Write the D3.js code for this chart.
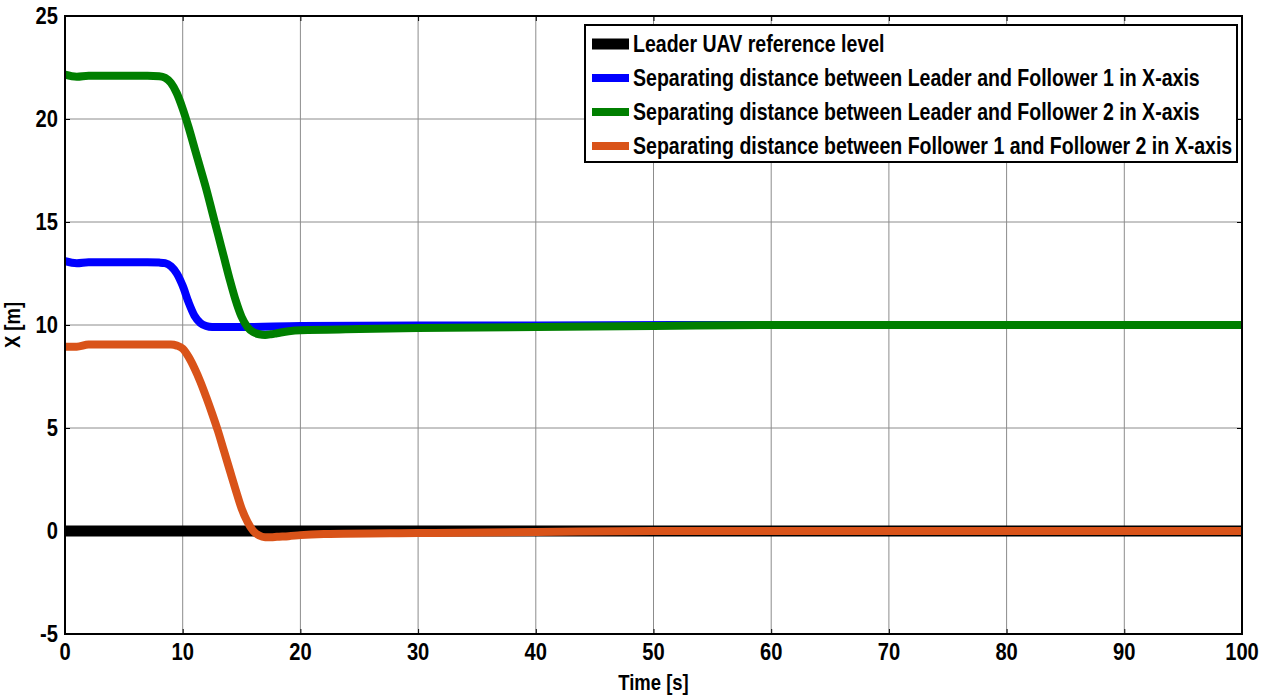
<!DOCTYPE html>
<html>
<head>
<meta charset="utf-8">
<script src="https://cdn.jsdelivr.net/npm/d3@7"></script>
<style>
  body { margin: 0; background: #fff; }
  text { font-family: "Liberation Sans", Arial, sans-serif; font-weight: bold; fill: #000; }
</style>
</head>
<body>
<div id="chart"></div>
<script>
const width = 1270,
    height = 696

const margin = { top: 16, right: 28, bottom: 62, left: 65 }

// data
const xTicks = [0, 10, 20, 30, 40, 50, 60, 70, 80, 90, 100]
const yTicks = [-5, 0, 5, 10, 15, 20, 25]

const leaderT = [0, 100]
const leaderX = [0, 0]

const f1T = [0, 1, 2, 3, 4, 5, 6, 7, 8, 8.5, 9, 9.5, 10, 10.5, 11, 11.5, 12, 12.5, 13, 15, 20, 30, 40, 60, 80, 100]
const f1X = [13.1, 13.0, 13.05, 13.05, 13.05, 13.05, 13.05, 13.05, 13.03, 13.0, 12.85, 12.5, 11.9, 11.1, 10.45, 10.1, 9.95, 9.9, 9.9, 9.9, 9.95, 9.97, 9.98, 10, 10, 10]

const f2T = [0, 1, 2, 3, 4, 5, 6, 7, 8, 8.5, 9, 9.5, 10, 10.5, 11, 11.5, 12, 12.5, 13, 13.5, 14, 14.5, 15, 15.5, 16, 16.5, 17, 17.5, 18, 19, 20, 25, 30, 40, 50, 60, 80, 100]
const f2X = [22.15, 22.05, 22.1, 22.1, 22.1, 22.1, 22.1, 22.1, 22.08, 22.0, 21.75, 21.25, 20.5, 19.6, 18.6, 17.6, 16.6, 15.5, 14.4, 13.3, 12.2, 11.2, 10.4, 9.9, 9.65, 9.55, 9.52, 9.55, 9.6, 9.7, 9.75, 9.8, 9.85, 9.9, 9.95, 10, 10, 10]

const f12T = [0, 1, 2, 3, 4, 5, 6, 7, 8, 9, 9.5, 10, 10.5, 11, 11.5, 12, 12.5, 13, 13.5, 14, 14.5, 15, 15.5, 16, 16.5, 17, 17.5, 18, 19, 20, 22, 30, 40, 50, 60, 80, 100]
const f12X = [8.95, 8.95, 9.05, 9.05, 9.05, 9.05, 9.05, 9.05, 9.05, 9.05, 9.0, 8.85, 8.45, 7.9, 7.25, 6.5, 5.7, 4.85, 3.9, 2.95, 2.0, 1.1, 0.45, 0.0, -0.22, -0.3, -0.3, -0.28, -0.25, -0.2, -0.15, -0.1, -0.05, 0, 0, 0, 0]

const seriesNames = [
  'Leader UAV reference level',
  'Separating distance between Leader and Follower 1 in X-axis',
  'Separating distance between Leader and Follower 2 in X-axis',
  'Separating distance between Follower 1 and Follower 2 in X-axis'
]
const seriesColors = ['#000000', '#0000ff', '#007f00', '#d95319']
const seriesWidths = [11, 8, 8, 8]

const series = [
  leaderT.map((t, i) => [t, leaderX[i]]),
  f1T.map((t, i) => [t, f1X[i]]),
  f2T.map((t, i) => [t, f2X[i]]),
  f12T.map((t, i) => [t, f12X[i]])
]

const svg = d3.select('#chart')
  .append('svg')
    .attr('width', width)
    .attr('height', height)

const x = d3.scaleLinear().domain([0, 100]).range([margin.left, width - margin.right])
const y = d3.scaleLinear().domain([-5, 25]).range([height - margin.bottom, margin.top])

// the original font is condensed: squeeze each text about its anchor point
function condense(sel, k, rot) {
  sel.each(function() {
    const t = d3.select(this)
    const px = +t.attr('x'), py = +t.attr('y')
    t.attr('x', 0).attr('y', 0)
      .attr('transform', `translate(${px},${py})${rot ? ` rotate(${rot})` : ''} scale(${k},1)`)
  })
}

// grid
svg.append('g')
  .selectAll('line')
  .data(xTicks)
  .join('line')
  .attr('x1', d => x(d)).attr('x2', d => x(d))
  .attr('y1', y(-5)).attr('y2', y(25))
  .attr('stroke', '#8c8c8c')
  .attr('stroke-width', 1)

svg.append('g')
  .selectAll('line')
  .data(yTicks)
  .join('line')
  .attr('x1', x(0)).attr('x2', x(100))
  .attr('y1', d => y(d)).attr('y2', d => y(d))
  .attr('stroke', '#8c8c8c')
  .attr('stroke-width', 1)

// inward ticks on all four sides
const tickLen = 5
const xAxisB = d3.axisBottom(x).tickValues(xTicks).tickSizeInner(-tickLen).tickSizeOuter(0).tickFormat('')
const xAxisT = d3.axisTop(x).tickValues(xTicks).tickSizeInner(-tickLen).tickSizeOuter(0).tickFormat('')
const yAxisL = d3.axisLeft(y).tickValues(yTicks).tickSizeInner(-tickLen).tickSizeOuter(0).tickFormat('')
const yAxisR = d3.axisRight(y).tickValues(yTicks).tickSizeInner(-tickLen).tickSizeOuter(0).tickFormat('')

svg.append('g').attr('transform', `translate(0,${y(-5)})`).call(xAxisB)
svg.append('g').attr('transform', `translate(0,${y(25)})`).call(xAxisT)
svg.append('g').attr('transform', `translate(${x(0)},0)`).call(yAxisL)
svg.append('g').attr('transform', `translate(${x(100)},0)`).call(yAxisR)
svg.selectAll('.domain').remove()
svg.selectAll('.tick line').attr('stroke', '#000')

// lines
const line = d3.line()
  .x(d => x(d[0]))
  .y(d => y(d[1]))
  .curve(d3.curveMonotoneX)

svg.append('g')
  .selectAll('path')
  .data(series)
  .join('path')
  .attr('d', line)
  .attr('fill', 'none')
  .attr('stroke', (d, i) => seriesColors[i])
  .attr('stroke-width', (d, i) => seriesWidths[i])
  .attr('stroke-linejoin', 'round')

// frame
svg.append('rect')
  .attr('x', x(0))
  .attr('y', y(25))
  .attr('width', x(100) - x(0))
  .attr('height', y(-5) - y(25))
  .attr('fill', 'none')
  .attr('stroke', '#000')
  .attr('stroke-width', 2)

// tick labels
svg.append('g')
  .selectAll('text')
  .data(xTicks)
  .join('text')
  .attr('x', d => x(d))
  .attr('y', y(-5) + 26)
  .attr('text-anchor', 'middle')
  .style('font-size', '24px')
  .text(d => d)
  .call(condense, 0.84)

svg.append('g')
  .selectAll('text')
  .data(yTicks)
  .join('text')
  .attr('x', x(0) - 7)
  .attr('y', d => y(d) + 8)
  .attr('text-anchor', 'end')
  .style('font-size', '24px')
  .text(d => d)
  .call(condense, 0.84)

// axis titles
svg.append('text')
  .attr('x', x(50))
  .attr('y', height - 6)
  .attr('text-anchor', 'middle')
  .style('font-size', '22px')
  .text('Time [s]')
  .call(condense, 0.84)

svg.append('text')
  .attr('x', 20)
  .attr('y', y(10))
  .attr('text-anchor', 'middle')
  .style('font-size', '22px')
  .text('X [m]')
  .call(condense, 0.84, -90)

// legend
const legend = svg.append('g')

legend.append('rect')
  .attr('x', 585)
  .attr('y', 25)
  .attr('width', 652)
  .attr('height', 137)
  .attr('fill', '#fff')
  .attr('stroke', '#000')
  .attr('stroke-width', 2)

const rows = legend.selectAll('g.row')
  .data(seriesNames)
  .join('g')
  .attr('class', 'row')
  .attr('transform', (d, i) => `translate(0,${44 + i * 34})`)

rows.append('line')
  .attr('x1', 592).attr('x2', 629)
  .attr('y1', 0).attr('y2', 0)
  .attr('stroke', (d, i) => seriesColors[i])
  .attr('stroke-width', (d, i) => seriesWidths[i])

rows.append('text')
  .attr('x', 633)
  .attr('y', 8)
  .style('font-size', '23px')
  .text(d => d)
  .call(condense, 0.85)
</script>
</body>
</html>
